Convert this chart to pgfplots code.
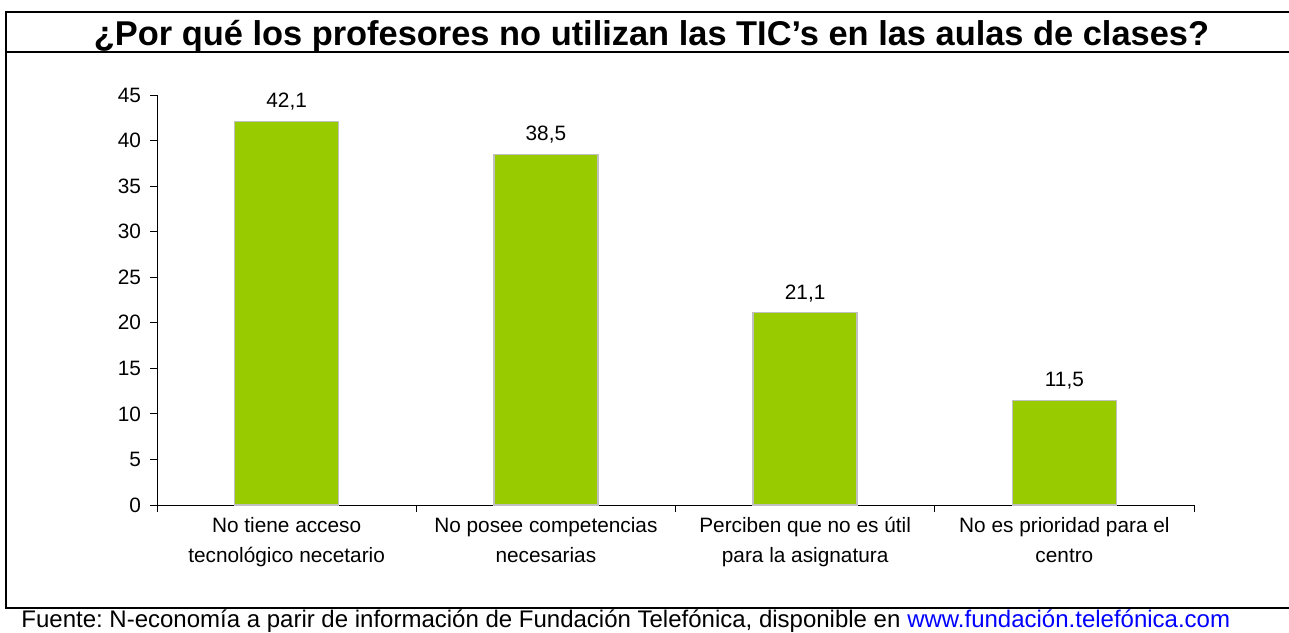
\documentclass[border=0pt]{standalone}
\usepackage{pgfplots}
\pgfplotsset{compat=1.18}
\usepackage{fontspec}
\setmainfont{Liberation Sans}
\frenchspacing
\definecolor{barg}{HTML}{99CC00}
\definecolor{bargedge}{HTML}{C0C0C0}
\begin{document}
\begin{tikzpicture}
\useasboundingbox (0,0) rectangle (644.5pt,-316pt);
% frame lines
\draw[line width=1pt] (3pt,-6pt) -- (644.5pt,-6pt);
\draw[line width=1pt] (3pt,-25.75pt) -- (644.5pt,-25.75pt);
\draw[line width=1pt] (3pt,-303.75pt) -- (644.5pt,-303.75pt);
\draw[line width=1pt] (3pt,-5.5pt) -- (3pt,-304.25pt);
% title
\node[anchor=base, inner sep=0pt, font=\fontsize{17.2}{19}\selectfont\bfseries] at (325.75pt,-22.5pt)
  {¿Por qué los profesores no utilizan las TIC’s en las aulas de clases?};
% footer
\node[anchor=base west, inner sep=0pt, font=\fontsize{12}{14}\selectfont] at (10.5pt,-313.5pt)
  {Fuente: N-economía a parir de información de Fundación Telefónica, disponible en \textcolor{blue}{www.fundación.telefónica.com}};
\begin{axis}[
  at={(78.5pt,-252.5pt)}, anchor=south west,
  scale only axis, width=518.5pt, height=205pt,
  xmin=-0.5, xmax=3.5, ymin=0, ymax=45,
  axis lines*=left,
  axis line style={line width=0.5pt},
  tick style={black, line width=0.5pt},
  tick align=outside,
  ytick={0,5,...,45},
  major tick length=3.5pt,
  xtick={0,1,2,3},
  major x tick style={draw=none},
  minor xtick={-0.5,0.5,1.5,2.5,3.5},
  minor tick length=3.5pt,
  minor x tick style={black, line width=0.5pt},
  xticklabels={{No tiene acceso\\tecnológico necetario},{No posee competencias\\necesarias},{Perciben que no es útil\\para la asignatura},{No es prioridad para el\\centro}},
  xticklabel style={align=center, font=\fontsize{10.4}{15}\selectfont, yshift=1pt},
  yticklabel style={font=\fontsize{10.4}{12}\selectfont, xshift=-1pt},
  /pgf/number format/assume math mode=true,
  ybar, bar width=52pt,
  nodes near coords,
  nodes near coords style={font=\fontsize{10.4}{12}\selectfont, anchor=south, inner sep=0pt, text depth=0pt, yshift=6.5pt,
    /pgf/number format/.cd, use comma, fixed, fixed zerofill, precision=1, assume math mode=true},
]
\addplot[fill=barg, draw=bargedge, line width=0.7pt] coordinates {(0,42.1) (1,38.5) (2,21.1) (3,11.5)};
\end{axis}
\end{tikzpicture}
\end{document}
